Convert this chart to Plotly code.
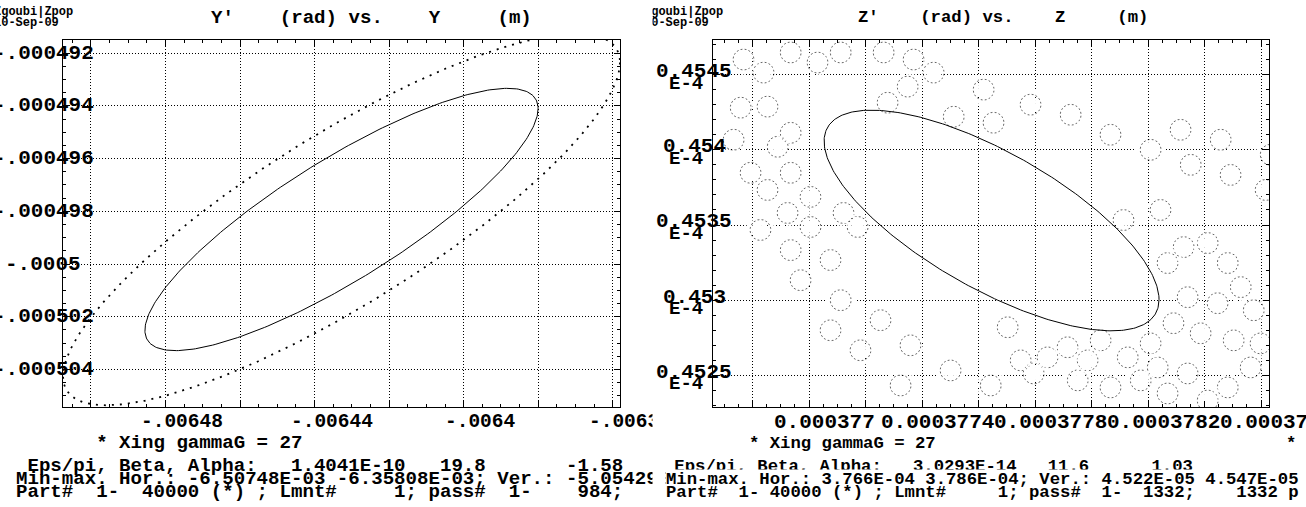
import numpy as np
import plotly.graph_objects as go

W, H = 1306, 507

# ---------------- data: left panel  Y' (rad) vs Y (m) ----------------
L_EPS, L_BETA, L_ALPHA = 1.4041e-10, 19.8, -1.58          # printed Twiss values
L_HOR = [-6.50748e-3, -6.35808e-3]                         # Min-max Hor.
L_VER = [-5.05429e-4, -4.91496e-4]                         # Ver. (max estimated)
L_CENTER = [-6.43278e-3, -4.98310e-4]                      # beam centre (read)
L_OUTER_EPS = 2.818e-10                                    # emittance of the dotted contour (read)
L_XTICKS = [-0.00648, -0.00644, -0.00640, -0.00636]
L_XTICK_TEXT = ["-.00648", "-.00644", "-.0064", "-.00636"]
L_YTICKS = [-0.000492, -0.000494, -0.000496, -0.000498, -0.000500, -0.000502, -0.000504]
L_YTICK_TEXT = ["-.000492", "-.000494", "-.000496", "-.000498", "-.0005", "-.000502", "-.000504"]

# ---------------- data: right panel  Z' (rad) vs Z (m) ----------------
R_EPS, R_BETA, R_ALPHA = 3.0293e-14, 11.6, 1.03
R_HOR = [3.7666e-4, 3.78628e-4]
R_VER = [4.5229e-5, 4.5473e-5]
R_CENTER = [3.77646e-4, 4.5353e-5]
R_XTICKS = [3.770e-4, 3.774e-4, 3.778e-4, 3.782e-4, 3.786e-4]
R_XTICK_TEXT = ["0.000377", "0.0003774", "0.0003778", "0.0003782", "0.0003786"]
R_YTICKS = [4.545e-5, 4.540e-5, 4.535e-5, 4.530e-5, 4.525e-5]
R_YTICK_TEXT = ["0.4545", "0.454", "0.4535", "0.453", "0.4525"]

# centres of the small dotted particle loops (Z in 1e-4 m, Z' in 1e-5 rad)
BAND_Z = [3.76768, 3.76839, 3.76935, 3.77030, 3.77112, 3.77264, 3.77370, 3.77441, 3.77618, 3.77349,
          3.77278, 3.77512, 3.77653, 3.76758, 3.76853, 3.76935, 3.76733, 3.76889, 3.76793, 3.76935,
          3.76853, 3.77005, 3.76924, 3.77122, 3.77005, 3.77172, 3.76828, 3.76935, 3.77076, 3.76970,
          3.77112, 3.77253, 3.77182, 3.77359, 3.77501, 3.77324, 3.77643, 3.77076,
          3.77784, 3.77926, 3.78067, 3.78209, 3.78351, 3.78492, 3.78616, 3.78634, 3.78457, 3.78315,
          3.78113, 3.78244, 3.78326, 3.78411, 3.78269, 3.78482, 3.78528, 3.78340, 3.78446, 3.78574,
          3.78290, 3.78386, 3.78503, 3.78598, 3.78209, 3.78128, 3.78234, 3.78340, 3.78482, 3.78563,
          3.78032, 3.77915, 3.77844, 3.77749, 3.77986, 3.78067, 3.78174, 3.77951, 3.78269, 3.78411,
          3.77795, 3.77703]
BAND_ZP = [4.54600, 4.54513, 4.54647, 4.54580, 4.54647, 4.54647, 4.54600, 4.54513, 4.54400, 4.54420,
           4.54313, 4.54220, 4.54180, 4.54280, 4.54287, 4.54113, 4.54067, 4.54020, 4.53847, 4.53847,
           4.53733, 4.53687, 4.53580, 4.53580, 4.53487, 4.53487, 4.53467, 4.53333, 4.53267, 4.53133,
           4.53000, 4.52867, 4.52667, 4.52700, 4.52533, 4.52433, 4.52433, 4.52800,
           4.54300, 4.54233, 4.54100, 4.54000, 4.53900, 4.53833, 4.53733, 4.53967, 4.54067, 4.54133,
           4.53533, 4.53600, 4.53353, 4.53380, 4.53247, 4.53247, 4.53087, 4.53020, 4.52980, 4.52933,
           4.52847, 4.52780, 4.52733, 4.52713, 4.52713, 4.52620, 4.52553, 4.52513, 4.52420, 4.52553,
           4.52733, 4.52687, 4.52620, 4.52600, 4.52600, 4.52420, 4.52467, 4.52467, 4.52380, 4.52333,
           4.52513, 4.52820]


def twiss_ellipse(eps, beta, alpha, cx, cy, n=361):
    """Phase-space ellipse defined by the printed Courant-Snyder parameters."""
    phi = np.linspace(0, 2 * np.pi, n)
    x = cx + np.sqrt(eps * beta) * np.cos(phi)
    xp = cy - np.sqrt(eps / beta) * (alpha * np.cos(phi) + np.sin(phi))
    return x, xp


FONT = "Liberation Mono, Courier New, monospace"
PX = lambda v: v / W
PY = lambda v: 1 - v / H

fig = go.Figure()

# left panel
xo, yo = twiss_ellipse(L_OUTER_EPS, L_BETA, L_ALPHA, L_CENTER[0], L_CENTER[1], 1441)
fig.add_trace(go.Scatter(x=xo, y=yo, mode="lines", line=dict(color="black", width=1.8, dash="2px,6px"),
                         xaxis="x", yaxis="y", hoverinfo="skip", showlegend=False))
xe, ye = twiss_ellipse(L_EPS, L_BETA, L_ALPHA, L_CENTER[0], L_CENTER[1])
fig.add_trace(go.Scatter(x=xe, y=ye, mode="lines", line=dict(color="black", width=1),
                         xaxis="x", yaxis="y", hoverinfo="skip", showlegend=False))

# right panel: dotted particle loops (open circles broken into dots by white spokes)
bz = np.array(BAND_Z) * 1e-4
bzp = np.array(BAND_ZP) * 1e-5
fig.add_trace(go.Scatter(x=bz, y=bzp, mode="markers",
                         marker=dict(symbol="circle-open", size=21, color="rgba(0,0,0,0.6)",
                                     line=dict(width=1, color="rgba(0,0,0,0.6)")),
                         xaxis="x2", yaxis="y2", hoverinfo="skip", showlegend=False))
for ang in (0, 22.5):
    fig.add_trace(go.Scatter(x=bz, y=bzp, mode="markers",
                             marker=dict(symbol="asterisk-open", size=25, angle=ang, color="white",
                                         line=dict(width=2.2, color="white")),
                             xaxis="x2", yaxis="y2", hoverinfo="skip", showlegend=False))
xe2, ye2 = twiss_ellipse(R_EPS, R_BETA, R_ALPHA, R_CENTER[0], R_CENTER[1])
fig.add_trace(go.Scatter(x=xe2, y=ye2, mode="lines", line=dict(color="black", width=1),
                         xaxis="x2", yaxis="y2", hoverinfo="skip", showlegend=False))

ydom = [PY(407), PY(40)]


def axis(domain, rng, tick0, dtick, minor_dtick, anchor):
    return dict(domain=domain, range=rng, anchor=anchor, showgrid=True, gridcolor="black",
                griddash="1px,2px", gridwidth=1, tick0=tick0, dtick=dtick, ticks="inside",
                ticklen=6, tickcolor="black", showticklabels=False, showline=True,
                linecolor="black", linewidth=1, mirror="allticks", zeroline=False,
                minor=dict(ticks="inside", ticklen=3, dtick=minor_dtick, tickcolor="black",
                           showgrid=False))


fig.update_layout(
    width=W, height=H, margin=dict(l=0, r=0, t=0, b=0),
    paper_bgcolor="white", plot_bgcolor="white", showlegend=False,
    xaxis=axis([PX(63), PX(620)], L_HOR, -0.0065, 2e-5, 5e-6, "y"),
    yaxis=axis(ydom, L_VER, -0.0005, 2e-6, 5e-7, "x"),
    xaxis2=axis([PX(713), PX(1269)], R_HOR, 3.77e-4, 2e-7, 5e-8, "y2"),
    yaxis2=axis(ydom, R_VER, 4.545e-5, 5e-8, 1e-8, "x2"),
)

ann = []


def txt(s, x, y, size=17, anchor="left", xref="paper", yref="paper", xshift=0, yshift=0, bg=None):
    d = dict(text=s.replace(" ", "\u00a0"), x=x, y=y, xref=xref, yref=yref, showarrow=False,
             xanchor=anchor, yanchor="middle", borderpad=0, xshift=xshift, yshift=yshift,
             font=dict(family=FONT, size=size, color="black", weight="bold"))
    if bg:
        d["bgcolor"] = bg
    ann.append(d)


def mask(x0, x1, y0, y1):
    ann.append(dict(text="\u00a0", x=PX(x0), y=PY(y0), xref="paper", yref="paper", showarrow=False,
                    xanchor="left", yanchor="top", width=x1 - x0, height=y1 - y0,
                    bgcolor="white", borderpad=0, font=dict(size=4)))


LF, RF = 19.1, 17.3   # text sizes of the two panels

# ---- left panel texts ----
txt("Zgoubi|Zpop", PX(-7), PY(12), size=12)
txt("10-Sep-09", PX(-7), PY(23), size=12)
txt("Y'    (rad) vs.    Y     (m)", PX(210), PY(18), size=LF)
for v, s in zip(L_YTICKS, L_YTICK_TEXT):
    txt(s, PX(43), v, size=21, anchor="center", yref="y")
for v, s in zip(L_XTICKS, L_XTICK_TEXT):
    txt(s, v, PY(422), size=19.5, anchor="center", xref="x", xshift=17)
txt("       * Xing gammaG = 27", PX(15), PY(443), size=LF)
txt(" Eps/pi, Beta, Alpha:   1.4041E-10   19.8       -1.58", PX(15), PY(466), size=LF)
txt("Min-max. Hor.: -6.50748E-03 -6.35808E-03; Ver.: -5.05429E-04", PX(15), PY(479), size=LF)
txt("Part#  1-  40000 (*) ; Lmnt#     1; pass#  1-    984;", PX(15), PY(492), size=LF)

mask(652, 712, 410, 436)
mask(652, 664, 470, 488)

# ---- right panel texts ----
txt("Zgoubi|Zpop", PX(643), PY(12), size=12)
txt("10-Sep-09", PX(643), PY(23), size=12)
mask(630, 651, 0, 34)
txt("Z'    (rad) vs.    Z     (m)", PX(857), PY(18), size=RF)
for v, s in zip(R_YTICKS, R_YTICK_TEXT):
    txt(s, PX(694), v, size=21, anchor="center", yref="y2", yshift=3)
    txt("E-4", PX(686), v, size=19, anchor="center", yref="y2", yshift=-9)
for v, s in zip(R_XTICKS, R_XTICK_TEXT):
    txt(s, v, PY(422), size=21, anchor="center", xref="x2", xshift=15)
txt("        * Xing gammaG = 27", PX(665), PY(443), size=RF)
txt("*", PX(1285), PY(443), size=RF)
txt(" Eps/pi, Beta, Alpha:   3.0293E-14   11.6      1.03", PX(663), PY(466), size=RF)
txt("Min-max. Hor.: 3.766E-04 3.786E-04; Ver.: 4.522E-05 4.547E-05", PX(665), PY(479), size=RF,
    bg="white")
txt("Part#  1- 40000 (*) ; Lmnt#     1; pass#  1-  1332;    1332 p", PX(665), PY(492), size=RF)

fig.update_layout(annotations=ann)
fig.write_html("out.html", config={"displayModeBar": False},
               post_script="document.body.style.margin='0';document.body.style.overflow='hidden';")
